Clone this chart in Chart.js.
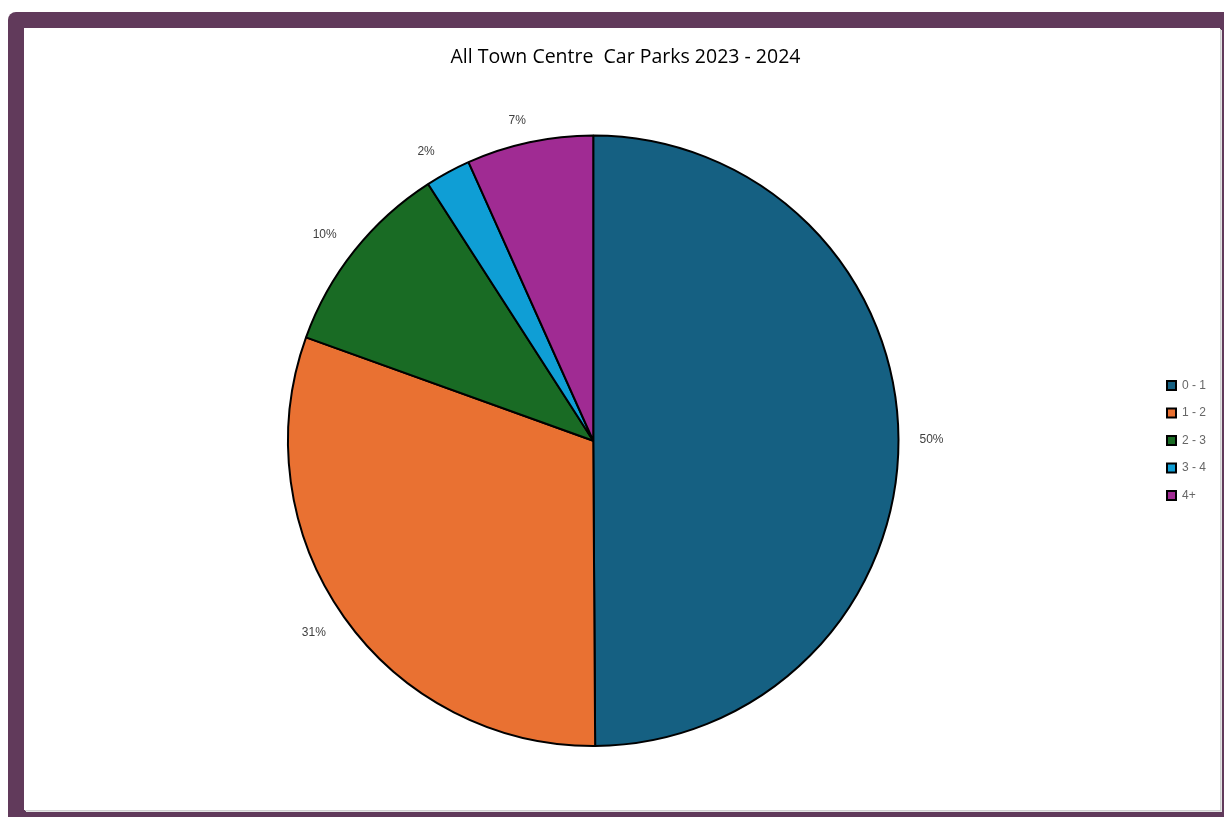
<!DOCTYPE html>
<html>
<head>
<meta charset="utf-8">
<script src="https://cdn.jsdelivr.net/npm/chart.js@4"></script>
<style>
  html, body { margin: 0; padding: 0; background: #fff; overflow: hidden; }
  .frame {
    position: absolute; left: 8px; top: 12px; width: 1240px; height: 830px;
    background: #613a5b; border-radius: 8px;
  }
  .chart-wrap {
    position: absolute; left: 24px; top: 28px; width: 1196px; height: 782px;
    background: #fff; box-shadow: 1px 1px 0 #cfcfcf, 2px 2px 0 #e4e4e4;
  }
</style>
</head>
<body>
<div class="frame"></div>
<div class="chart-wrap"><canvas id="c"></canvas></div>
<script>
const categories = ["0 - 1", "1 - 2", "2 - 3", "3 - 4", "4+"];
const shares = [49.9, 30.6, 10.4, 2.4, 6.7];
const colours = ["#156082", "#E97132", "#196B24", "#0F9ED5", "#A02B93"];
const chartTitle = "All Town Centre  Car Parks 2023 - 2024";

// percentage labels outside the pie: anchor on a ring, then the label box
// is nudged away from the pie, the way Excel places "outside end" labels
const outsideLabels = {
  id: "outsideLabels",
  afterDatasetsDraw(chart) {
    const ctx = chart.ctx;
    const meta = chart.getDatasetMeta(0);
    const total = shares.reduce((a, b) => a + b, 0);
    ctx.save();
    ctx.font = "12px 'Liberation Sans', Arial, sans-serif";
    ctx.fillStyle = "#404040";
    ctx.textAlign = "center";
    ctx.textBaseline = "middle";
    meta.data.forEach((arc, i) => {
      const p = arc.getProps(["x", "y", "startAngle", "endAngle", "outerRadius"], true);
      const mid = (p.startAngle + p.endAngle) / 2;
      const txt = Math.round(shares[i] / total * 100) + "%";
      const halfW = ctx.measureText(txt).width / 2 + 6;
      const dx = Math.cos(mid), dy = Math.sin(mid);
      const r = p.outerRadius + 15;
      const ox = Math.sign(dx) * halfW * Math.min(1, Math.abs(dx) * 3);
      const oy = Math.sign(dy) * 7 * Math.min(1, Math.abs(dy) * 3);
      ctx.fillText(txt, p.x + dx * r + ox, p.y + dy * r + oy);
    });
    ctx.restore();
  }
};

new Chart(document.getElementById("c"), {
  type: "pie",
  data: {
    labels: categories,
    datasets: [{
      data: shares,
      backgroundColor: colours,
      borderColor: "#000",
      borderWidth: 2
    }]
  },
  options: {
    responsive: true,
    maintainAspectRatio: false,
    animation: false,
    layout: { padding: { left: 11, right: 4, top: 0, bottom: 63 } },
    plugins: {
      title: {
        display: true,
        text: chartTitle,
        color: "#000",
        font: { family: "'Open Sans', 'Noto Sans', sans-serif", size: 19.5, weight: "normal" },
        padding: { top: 17.5, bottom: 65.6 }
      },
      legend: {
        position: "right",
        title: { display: true, text: "", font: { size: 12 }, padding: { top: 46, bottom: 45.6 } },
        labels: {
          boxWidth: 9,
          boxHeight: 9,
          padding: 15.5,
          color: "#333",
          font: { family: "'Liberation Sans', Arial, sans-serif", size: 12 },
          generateLabels(chart) {
            return categories.map((c, i) => ({
              text: c,
              fillStyle: colours[i],
              strokeStyle: "#000",
              lineWidth: 2,
              index: i,
              hidden: false
            }));
          }
        }
      },
      tooltip: { enabled: false }
    }
  },
  plugins: [outsideLabels]
});
</script>
</body>
</html>
